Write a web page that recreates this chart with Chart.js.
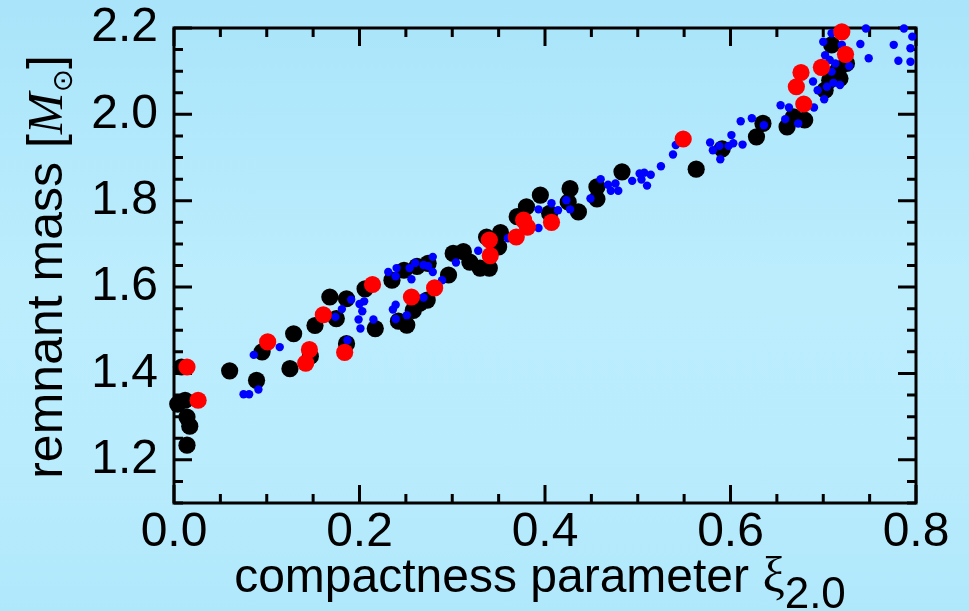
<!doctype html>
<html lang="en">

<head>
    <meta charset="utf-8">
    <title>Remnant mass vs compactness</title>
    <style>
        html, body {
            margin: 0;
            padding: 0;
        }
        body {
            width: 969px;
            height: 611px;
            overflow: hidden;
            background: linear-gradient(180deg, #a9e4fa 0%, #bbedfd 45%, #b9ecfd 75%, #b0e8fb 100%);
        }
        canvas {
            display: block;
        }
    </style>
</head>

<body>
    <canvas id="massChart" width="969" height="611"></canvas>

    <script src="https://cdn.jsdelivr.net/npm/chart.js@4.4.1/dist/chart.umd.min.js"></script>
    <script>
        // tick labels
        var xTicks = [0.0, 0.2, 0.4, 0.6, 0.8];
        var yTicks = [1.2, 1.4, 1.6, 1.8, 2.0, 2.2];

        // black points (large)
        var blackXi = [0.004, 0.012, 0.008, 0.014, 0.017, 0.014, 0.060, 0.089, 0.095, 0.125,
            0.129, 0.152, 0.147, 0.168, 0.186, 0.175, 0.186, 0.206, 0.217, 0.235,
            0.248, 0.262, 0.274, 0.242, 0.251, 0.258, 0.265, 0.273, 0.296, 0.301,
            0.312, 0.319, 0.330, 0.340, 0.337, 0.350, 0.352, 0.370, 0.380, 0.395,
            0.405, 0.427, 0.425, 0.436, 0.456, 0.456, 0.483, 0.563, 0.591, 0.628,
            0.635, 0.661, 0.668, 0.680, 0.709, 0.725, 0.716, 0.707, 0.702, 0.718];
        var blackMass = [1.329, 1.338, 1.415, 1.299, 1.278, 1.234, 1.406, 1.384, 1.450, 1.411,
            1.492, 1.511, 1.440, 1.577, 1.573, 1.527, 1.469, 1.596, 1.504, 1.616,
            1.639, 1.648, 1.655, 1.521, 1.512, 1.546, 1.563, 1.570, 1.628, 1.678,
            1.682, 1.658, 1.644, 1.644, 1.716, 1.693, 1.726, 1.763, 1.786, 1.813,
            1.771, 1.828, 1.797, 1.774, 1.832, 1.804, 1.867, 1.873, 1.920, 1.948,
            1.979, 1.971, 1.994, 1.987, 2.161, 2.118, 2.103, 2.079, 2.056, 2.083];

        // blue points (small)
        var blueXi = [0.075, 0.081, 0.091, 0.086, 0.114, 0.174, 0.181, 0.191, 0.200, 0.205,
            0.203, 0.199, 0.201, 0.215, 0.187, 0.231, 0.240, 0.239, 0.254, 0.260,
            0.269, 0.274, 0.279, 0.279, 0.256, 0.236, 0.239, 0.239, 0.251, 0.269,
            0.289, 0.304, 0.328, 0.360, 0.393, 0.393, 0.407, 0.414, 0.423, 0.427,
            0.449, 0.460, 0.468, 0.476, 0.471, 0.479, 0.494, 0.502, 0.507, 0.514,
            0.504, 0.510, 0.525, 0.538, 0.541, 0.578, 0.581, 0.588, 0.589, 0.598,
            0.603, 0.601, 0.613, 0.611, 0.623, 0.636, 0.654, 0.663, 0.659, 0.673,
            0.690, 0.689, 0.694, 0.701, 0.704, 0.711, 0.718, 0.709, 0.713, 0.702,
            0.707, 0.700, 0.709, 0.720, 0.728, 0.740, 0.746, 0.749, 0.776, 0.781,
            0.787, 0.794, 0.794, 0.796];
        var blueMass = [1.352, 1.352, 1.363, 1.443, 1.461, 1.531, 1.549, 1.571, 1.561, 1.567,
            1.544, 1.525, 1.504, 1.525, 1.477, 1.635, 1.644, 1.625, 1.644, 1.656,
            1.651, 1.649, 1.670, 1.635, 1.618, 1.548, 1.559, 1.526, 1.535, 1.576,
            1.616, 1.657, 1.684, 1.713, 1.780, 1.737, 1.794, 1.778, 1.801, 1.780,
            1.805, 1.850, 1.837, 1.840, 1.823, 1.823, 1.846, 1.863, 1.865, 1.860,
            1.849, 1.835, 1.880, 1.907, 1.929, 1.935, 1.917, 1.927, 1.896, 1.927,
            1.933, 1.952, 1.930, 1.984, 1.991, 1.975, 2.021, 2.016, 1.989, 1.979,
            2.016, 2.076, 2.056, 2.035, 2.064, 2.073, 2.068, 2.099, 2.118, 2.137,
            2.126, 2.168, 2.188, 2.161, 2.112, 2.163, 2.199, 2.130, 2.161, 2.124,
            2.199, 2.153, 2.122, 2.180];

        // red points (large)
        var redXi = [0.014, 0.026, 0.101, 0.146, 0.142, 0.161, 0.184, 0.214, 0.256, 0.281,
            0.340, 0.341, 0.369, 0.377, 0.381, 0.407, 0.549, 0.679, 0.671, 0.676,
            0.698, 0.724, 0.720];
        var redMass = [1.415, 1.338, 1.473, 1.455, 1.424, 1.536, 1.449, 1.606, 1.577, 1.598,
            1.709, 1.673, 1.716, 1.755, 1.739, 1.750, 1.943, 2.024, 2.064, 2.097,
            2.109, 2.139, 2.191];

        var FONT = '"Liberation Sans", Arial, Helvetica, sans-serif';

        function toPoints(xs, ys) {
            return xs.map(function (v, i) { return { x: v, y: ys[i] }; });
        }

        // frame with inward ticks on all four sides
        var frameTicks = {
            id: 'frameTicks',
            beforeDatasetsDraw: function (chart) {
                var ctx = chart.ctx;
                var a = chart.chartArea;
                var x = chart.scales.x;
                var y = chart.scales.y;
                ctx.save();
                ctx.strokeStyle = '#000';
                ctx.lineWidth = 3;
                ctx.beginPath();
                for (let i = 0; i <= 16; i++) {
                    var px = x.getPixelForValue(i * 0.05);
                    var len = i % 4 === 0 ? 18 : 9;
                    ctx.moveTo(px, a.bottom);
                    ctx.lineTo(px, a.bottom - len);
                    ctx.moveTo(px, a.top);
                    ctx.lineTo(px, a.top + len);
                }
                for (let i = 0; i <= 22; i++) {
                    var py = y.getPixelForValue(1.1 + i * 0.05);
                    var len2 = i % 4 === 2 ? 18 : 9;
                    ctx.moveTo(a.left, py);
                    ctx.lineTo(a.left + len2, py);
                    ctx.moveTo(a.right, py);
                    ctx.lineTo(a.right - len2, py);
                }
                ctx.stroke();
                ctx.strokeRect(a.left, a.top, a.right - a.left, a.bottom - a.top);
                ctx.restore();
            }
        };

        // text made of runs with their own font and baseline shift
        function drawRuns(ctx, runs, cx, baseY) {
            var total = 0;
            runs.forEach(function (r) {
                ctx.font = r.font;
                r.w = ctx.measureText(r.text).width;
                total += r.w;
            });
            var pos = cx - total / 2;
            runs.forEach(function (r) {
                ctx.font = r.font;
                ctx.fillText(r.text, pos, baseY + (r.dy || 0));
                pos += r.w;
            });
        }

        var axisTitles = {
            id: 'axisTitles',
            afterDraw: function (chart) {
                var ctx = chart.ctx;
                ctx.save();
                ctx.fillStyle = '#000';
                ctx.textAlign = 'left';
                ctx.textBaseline = 'alphabetic';

                drawRuns(ctx, [
                    { text: 'compactness parameter ', font: '48px ' + FONT },
                    { text: 'ξ', font: '50px "Liberation Serif", serif' },
                    { text: '2.0', font: '44px ' + FONT, dy: 16 }
                ], 540, 592);

                ctx.translate(62, 267);
                ctx.rotate(-Math.PI / 2);
                drawRuns(ctx, [
                    { text: 'remnant mass [', font: '50px ' + FONT },
                    { text: 'M', font: 'italic 50px "Liberation Serif", serif' },
                    { text: '\u2299', font: '28px "DejaVu Sans", sans-serif', dy: 10 },
                    { text: ']', font: '50px ' + FONT }
                ], 0, 0);
                ctx.restore();
            }
        };

        var ctx = document.getElementById('massChart').getContext('2d');
        var chart = new Chart(ctx, {
            type: 'scatter',
            data: {
                datasets: [{
                    label: 'red',
                    data: toPoints(redXi, redMass),
                    backgroundColor: '#ff0000',
                    borderWidth: 0,
                    pointRadius: 8.6,
                    clip: false,
                    order: 0
                }, {
                    label: 'blue',
                    data: toPoints(blueXi, blueMass),
                    backgroundColor: '#0000ff',
                    borderWidth: 0,
                    pointRadius: 4.2,
                    clip: false,
                    order: 1
                }, {
                    label: 'black',
                    data: toPoints(blackXi, blackMass),
                    backgroundColor: '#000000',
                    borderWidth: 0,
                    pointRadius: 8.6,
                    clip: false,
                    order: 2
                }]
            },
            options: {
                responsive: false,
                animation: false,
                devicePixelRatio: 1,
                layout: {
                    padding: { top: 28, right: 53, left: 0, bottom: 0 }
                },
                plugins: {
                    legend: { display: false },
                    tooltip: { enabled: false }
                },
                scales: {
                    x: {
                        type: 'linear',
                        min: 0,
                        max: 0.8,
                        afterBuildTicks: function (scale) {
                            scale.ticks = xTicks.map(function (v) { return { value: v }; });
                        },
                        afterFit: function (scale) {
                            scale.height = 108;
                        },
                        grid: { display: false, drawTicks: false },
                        border: { display: false },
                        ticks: {
                            color: '#000',
                            padding: 1,
                            maxRotation: 0,
                            autoSkip: false,
                            font: { family: FONT, size: 48 },
                            callback: function (v) { return v.toFixed(1); }
                        }
                    },
                    y: {
                        type: 'linear',
                        min: 1.1,
                        max: 2.2,
                        afterBuildTicks: function (scale) {
                            scale.ticks = yTicks.map(function (v) { return { value: v }; });
                        },
                        afterFit: function (scale) {
                            scale.width = 174;
                        },
                        grid: { display: false, drawTicks: false },
                        border: { display: false },
                        ticks: {
                            color: '#000',
                            padding: 16,
                            autoSkip: false,
                            font: { family: FONT, size: 48, lineHeight: 0.5 },
                            callback: function (v) { return v.toFixed(1); }
                        }
                    }
                }
            },
            plugins: [frameTicks, axisTitles]
        });
    </script>
</body>

</html>
